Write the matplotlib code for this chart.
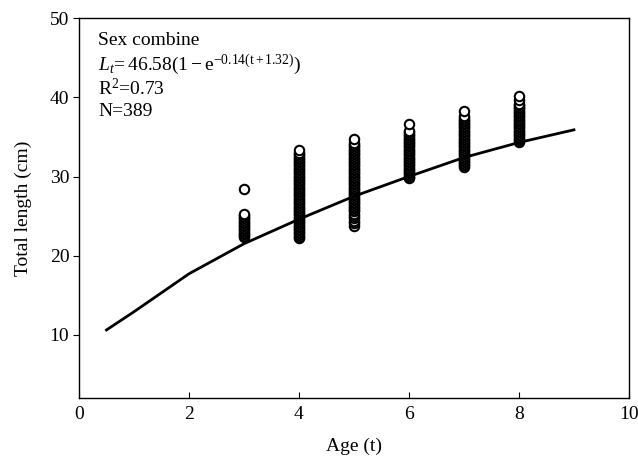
import matplotlib
matplotlib.use("Agg")
import matplotlib.pyplot as plt

plt.rcParams['font.family'] = ['Liberation Serif', 'DejaVu Serif']
plt.rcParams['mathtext.fontset'] = 'custom'
plt.rcParams['mathtext.rm'] = 'Liberation Serif'
plt.rcParams['mathtext.it'] = 'Liberation Serif:italic'

# Observed total length (cm) by age
age3 = [22.3, 22.5, 22.7, 22.9, 23.1, 23.3, 23.5, 23.7, 23.9, 24.1, 24.3, 24.5,
        24.7, 24.9, 25.1, 25.3, 28.4]
age4 = [22.2, 22.4, 22.6, 22.8, 23.0, 23.2, 23.4, 23.6, 23.8, 24.0, 24.2, 24.4,
        24.6, 24.8, 25.0, 25.2, 25.4, 25.6, 25.8, 26.0, 26.2, 26.4, 26.6, 26.8,
        27.0, 27.2, 27.4, 27.6, 27.8, 28.0, 28.2, 28.4, 28.6, 28.8, 29.0, 29.2,
        29.4, 29.6, 29.8, 30.0, 30.2, 30.4, 30.6, 30.8, 31.0, 31.2, 31.4, 31.6,
        31.8, 32.0, 32.2, 32.4, 32.6, 32.8, 33.0, 33.4]
age5 = [23.8, 24.1, 24.4, 24.7, 25.0, 25.3, 25.6, 25.8, 26.0, 26.2, 26.4, 26.6,
        26.8, 27.0, 27.2, 27.4, 27.6, 27.8, 28.0, 28.2, 28.4, 28.6, 28.8, 29.0,
        29.2, 29.4, 29.6, 29.8, 30.0, 30.2, 30.4, 30.6, 30.8, 31.0, 31.2, 31.4,
        31.6, 31.8, 32.0, 32.2, 32.4, 32.6, 32.8, 33.0, 33.2, 33.4, 33.6, 33.8,
        34.0, 34.2, 34.7]
age6 = [29.8, 30.0, 30.2, 30.4, 30.6, 30.8, 31.0, 31.2, 31.4, 31.6, 31.8, 32.0,
        32.2, 32.4, 32.6, 32.8, 33.0, 33.2, 33.4, 33.6, 33.8, 34.0, 34.2, 34.4,
        34.6, 34.8, 35.0, 35.2, 35.4, 35.6, 35.8, 36.6]
age7 = [31.2, 31.4, 31.6, 31.8, 32.0, 32.2, 32.4, 32.6, 32.8, 33.0, 33.2, 33.4,
        33.6, 33.8, 34.0, 34.2, 34.4, 34.6, 34.8, 35.0, 35.2, 35.4, 35.6, 35.8,
        36.0, 36.2, 36.4, 36.6, 36.8, 37.0, 37.2, 37.4, 37.6, 38.3]
age8 = [34.4, 34.6, 34.8, 35.0, 35.2, 35.4, 35.6, 35.8, 36.0, 36.2, 36.4, 36.6,
        36.8, 37.0, 37.2, 37.4, 37.6, 37.8, 38.0, 38.2, 38.4, 38.6, 38.8, 39.0,
        39.2, 39.7, 40.2]
ages = [3, 4, 5, 6, 7, 8]
groups = [age3, age4, age5, age6, age7, age8]

# Fitted growth curve
curve_t = [0.5, 1, 2, 3, 4, 5, 6, 7, 8, 9]
curve_L = [10.6, 12.9, 17.7, 21.5, 24.6, 27.5, 30.0, 32.4, 34.3, 35.9]

fig = plt.figure(figsize=(6.38, 4.61), dpi=100)
ax = fig.add_axes([0.1238, 0.1367, 0.862, 0.8236])

for a, g in zip(ages, groups):
    ax.scatter([a] * len(g), g, s=46, facecolors='white', edgecolors='black',
               linewidths=1.5, zorder=2)
ax.plot(curve_t, curve_L, color='black', lw=2.0, zorder=3)

ax.set_xlim(0, 10)
ax.set_ylim(2, 50)
ax.set_xticks([0, 2, 4, 6, 8, 10])
ax.set_yticks([10, 20, 30, 40, 50])
ax.tick_params(axis='x', direction='in', length=4, labelsize=14, pad=6)
ax.tick_params(axis='y', direction='out', length=4, labelsize=14, pad=3)
for s in ax.spines.values():
    s.set_linewidth(1.0)

ax.set_xlabel('Age (t)', fontsize=14, labelpad=10)
ax.set_ylabel('Total length (cm)', fontsize=14, labelpad=13)

tx = 0.035
fs = 14
ax.text(tx, 0.964, 'Sex combine', transform=ax.transAxes, fontsize=fs, va='top')
ax.text(tx, 0.908, r'$L_t\!=46.58(1-\mathrm{e}^{-0.14(\mathrm{t}+1.32)})$',
        transform=ax.transAxes, fontsize=fs, va='top')
ax.text(tx, 0.842, r'R$^2$=0.73', transform=ax.transAxes, fontsize=fs, va='top')
ax.text(tx, 0.776, 'N=389', transform=ax.transAxes, fontsize=fs, va='top')

fig.savefig('out.png', dpi=100)
